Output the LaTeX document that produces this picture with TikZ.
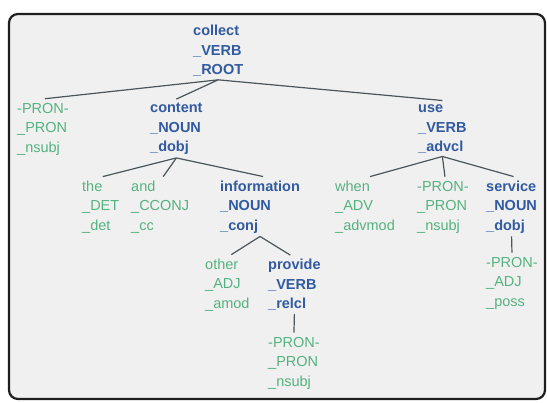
\documentclass[tikz,border=0pt]{standalone}
\usepackage{fontspec}
\setmainfont{Liberation Sans}
\definecolor{depblue}{RGB}{50,90,160}
\definecolor{depgreen}{RGB}{85,178,128}
\definecolor{edgegray}{RGB}{75,85,90}
\definecolor{panel}{RGB}{240,240,240}
\definecolor{framec}{RGB}{30,30,30}
\begin{document}
\begin{tikzpicture}[x=1pt,y=-1pt,
  tok/.style={anchor=west, align=left, inner sep=0pt},
  head/.style={tok, text=depblue, font=\fontsize{14.5}{19.5}\selectfont\bfseries},
  leaf/.style={tok, text=depgreen, font=\fontsize{14.5}{19.5}\selectfont},
  dep/.style={draw=edgegray, line width=1.2pt},
  up/.style={yshift=4pt},
  dn/.style={yshift=-3pt}]
\useasboundingbox (0,0) rectangle (547,403);
\draw[framec, line width=2.2pt, fill=panel, rounded corners=9pt] (9,14) rectangle (545,399);
% nodes
\node[head] (root) at (193,51) {collect\\\_VERB\\\_ROOT};
\node[leaf] (pron1) at (17,129) {-PRON-\\\_PRON\\\_nsubj};
\node[head] (content) at (150,129) {content\\\_NOUN\\\_dobj};
\node[head] (use) at (418,129) {use\\\_VERB\\\_advcl};
\node[leaf] (the) at (82,207) {the\\\_DET\\\_det};
\node[leaf] (and) at (131,207) {and\\\_CCONJ\\\_cc};
\node[head] (info) at (220,207) {information\\\_NOUN\\\_conj};
\node[leaf] (when) at (335,207) {when\\\_ADV\\\_advmod};
\node[leaf] (pron2) at (417,207) {-PRON-\\\_PRON\\\_nsubj};
\node[head] (service) at (486,207) {service\\\_NOUN\\\_dobj};
\node[leaf] (other) at (205,285) {other\\\_ADJ\\\_amod};
\node[head] (provide) at (268,285) {provide\\\_VERB\\\_relcl};
\node[leaf] (pron4) at (486,283) {-PRON-\\\_ADJ\\\_poss};
\node[leaf] (pron3) at (268,363) {-PRON-\\\_PRON\\\_nsubj};
% edges
\draw[dep] ([dn]root.south) -- ([up,xshift=2pt]pron1.north);
\draw[dep] ([dn]root.south) -- ([up]content.north);
\draw[dep] ([dn]root.south) -- ([up]use.north);
\draw[dep] ([dn]content.south) -- ([up,xshift=2pt]the.north);
\draw[dep] ([dn]content.south) -- ([up,xshift=3pt]and.north);
\draw[dep] ([dn]content.south) -- ([up,xshift=3pt]info.north);
\draw[dep] ([dn]use.south) -- ([up,xshift=5pt]when.north);
\draw[dep] ([dn]use.south) -- ([up,xshift=2pt]pron2.north);
\draw[dep] ([dn]use.south) -- ([up,xshift=2pt]service.north);
\draw[dep] ([dn]info.south) -- ([up,xshift=4pt]other.north);
\draw[dep] ([dn]info.south) -- ([up,xshift=-4pt]provide.north);
\draw[dep] ([dn]service.south) -- ([up]pron4.north);
\draw[dep] ([dn]provide.south) -- ([up]pron3.north);
\end{tikzpicture}
\end{document}
